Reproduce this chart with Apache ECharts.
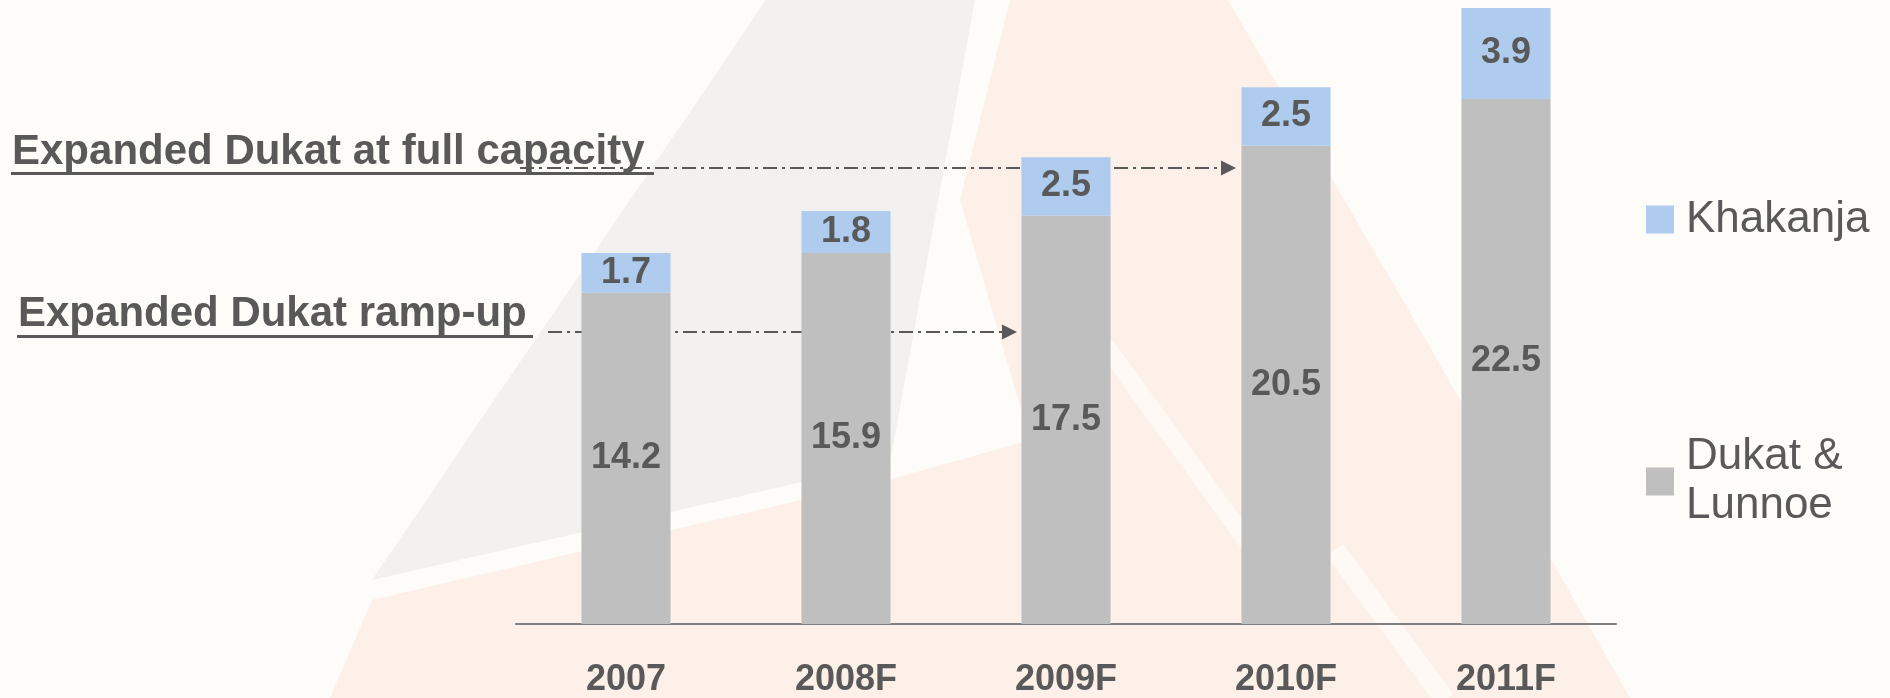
<!DOCTYPE html>
<html>
<head>
<meta charset="utf-8">
<script src="https://cdn.jsdelivr.net/npm/echarts@6/dist/echarts.min.js"></script>
<style>
html,body{margin:0;padding:0;background:#FDFCF9;}
#c{width:1890px;height:698px;}
</style>
</head>
<body>
<div id="c"></div>
<script>
// ---- data ----
const categories = ['2007', '2008F', '2009F', '2010F', '2011F'];
const dukatLunnoe = [14.2, 15.9, 17.5, 20.5, 22.5];
const khakanja = [1.7, 1.8, 2.5, 2.5, 3.9];
const seriesNames = ['Dukat & Lunnoe', 'Khakanja'];
const annotationTexts = ['Expanded Dukat at full capacity', 'Expanded Dukat ramp-up'];

// ---- style ----
const FONT = '"Liberation Sans", Arial, Helvetica, sans-serif';
const TXT = '#595959';
const BG = '#FDFCF9';
const GRAY = '#BFBFBF';
const BLUE = '#AFCBEE';

const chart = echarts.init(document.getElementById('c'), null, {renderer: 'canvas'});

function dashArrow(x1, x2, y) {
  return [
    {type: 'line', z: 1, silent: true,
     shape: {x1: x1, y1: y, x2: x2 - 12, y2: y},
     style: {stroke: TXT, lineWidth: 2, lineDash: [14, 5, 3, 5]}},
    {type: 'polygon', z: 1, silent: true,
     shape: {points: [[x2 - 15, y - 7.5], [x2, y], [x2 - 15, y + 7.5]]},
     style: {fill: TXT}}
  ];
}

function underlinedText(text, x, yMid, yLine, xEnd) {
  return [
    {type: 'text', z: 50, silent: true,
     style: {text: text, x: x, y: yMid, font: 'bold 42px ' + FONT, fill: TXT,
             align: 'left', verticalAlign: 'middle'}},
    {type: 'line', z: 50, silent: true,
     shape: {x1: x - 1, y1: yLine, x2: xEnd, y2: yLine},
     style: {stroke: TXT, lineWidth: 3}}
  ];
}

const background = [
  {type: 'polygon', z: -10, silent: true,
   shape: {points: [[1010, 0], [1228, 0], [1430, 347], [1630, 698], [330, 698], [372, 600], [895, 478], [1030, 440], [960, 200]]},
   style: {fill: '#FDF0E8'}},
  {type: 'polygon', z: -9, silent: true,
   shape: {points: [[766, 0], [975, 0], [890, 462], [372, 580]]},
   style: {fill: '#F2F1F0'}},
  {type: 'line', z: -8, silent: true,
   shape: {x1: 1105, y1: 345, x2: 1250, y2: 545},
   style: {stroke: BG, lineWidth: 18, opacity: 0.75}},
  {type: 'line', z: -8, silent: true,
   shape: {x1: 1335, y1: 550, x2: 1445, y2: 700},
   style: {stroke: BG, lineWidth: 20, opacity: 0.75}}
];

const annotations = [].concat(
  underlinedText(annotationTexts[0], 12, 152, 173.5, 654),
  dashArrow(520, 1236, 168),
  underlinedText(annotationTexts[1], 18, 314, 336.5, 533),
  dashArrow(548, 1017, 332)
);

const option = {
  backgroundColor: BG,
  animation: false,
  textStyle: {fontFamily: FONT},
  grid: {left: 516, right: 274, top: 8, bottom: 72, containLabel: false},
  legend: [
    {
      data: [seriesNames[1]],
      left: 1646, top: 195, padding: 0,
      icon: 'rect', itemWidth: 28, itemHeight: 28,
      textStyle: {fontFamily: FONT, fontSize: 44, color: TXT, lineHeight: 49, padding: [0, 0, 0, 7]},
      selectedMode: false
    },
    {
      data: [seriesNames[0]],
      left: 1646, top: 408, padding: 0,
      icon: 'rect', itemWidth: 28, itemHeight: 28,
      formatter: function () { return 'Dukat &\nLunnoe'; },
      textStyle: {fontFamily: FONT, fontSize: 44, color: TXT, lineHeight: 49, padding: [49, 0, 0, 7]},
      selectedMode: false
    }
  ],
  xAxis: {
    type: 'category',
    data: categories,
    axisLine: {show: true, lineStyle: {color: '#7F7F7F', width: 2}},
    axisTick: {show: false},
    axisLabel: {fontFamily: FONT, fontSize: 36, fontWeight: 'bold', color: TXT, margin: 38}
  },
  yAxis: {
    type: 'value', min: 0, max: 26.4, show: false,
    splitLine: {show: false}
  },
  series: [
    {
      name: seriesNames[0], type: 'bar', stack: 'total', barWidth: '40.5%',
      itemStyle: {color: GRAY},
      label: {show: true, position: 'inside', fontFamily: FONT, fontSize: 36, fontWeight: 'bold', color: TXT},
      data: dukatLunnoe
    },
    {
      name: seriesNames[1], type: 'bar', stack: 'total', barWidth: '40.5%',
      itemStyle: {color: BLUE},
      label: {show: true, position: 'inside', fontFamily: FONT, fontSize: 36, fontWeight: 'bold', color: TXT},
      data: khakanja
    }
  ],
  graphic: {elements: background.concat(annotations)}
};

chart.setOption(option);
</script>
</body>
</html>
